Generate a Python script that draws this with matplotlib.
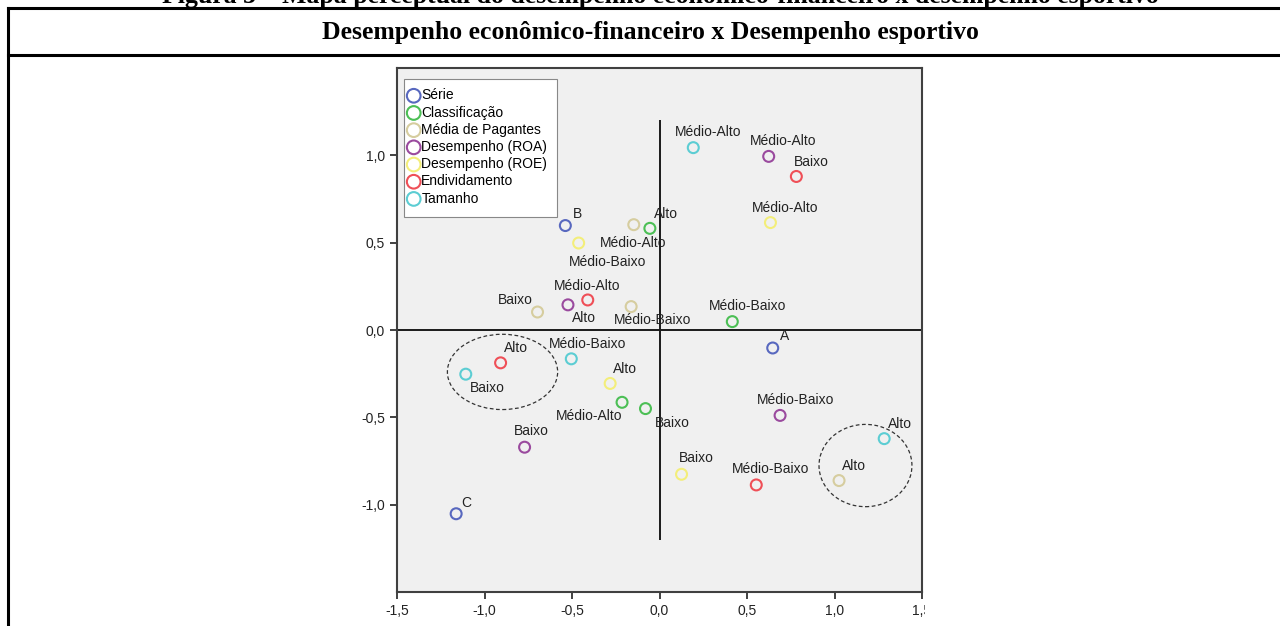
import matplotlib
matplotlib.use("Agg")
import matplotlib.pyplot as plt
from matplotlib.patches import Ellipse, Rectangle
from matplotlib.lines import Line2D
from matplotlib.transforms import Bbox

plt.rcParams['font.family'] = ['Liberation Sans', 'DejaVu Sans']

# dados (dimensao 1 x dimensao 2)
serie_lab = ["B", "A", "C"]
serie_x = [-0.538, 0.647, -1.162]
serie_y = [0.598, -0.103, -1.052]

niveis = ["Alto", "Médio-Alto", "Médio-Baixo", "Baixo"]

classif_x = [-0.055, -0.214, 0.416, -0.080]
classif_y = [0.582, -0.414, 0.048, -0.450]

pagantes_x = [1.026, -0.147, -0.162, -0.697]
pagantes_y = [-0.862, 0.603, 0.134, 0.103]

roa_x = [-0.523, 0.624, 0.689, -0.771]
roa_y = [0.144, 0.994, -0.489, -0.671]

roe_x = [-0.282, 0.634, -0.462, 0.126]
roe_y = [-0.306, 0.615, 0.498, -0.826]

endiv_x = [-0.908, -0.410, 0.553, 0.782]
endiv_y = [-0.188, 0.172, -0.887, 0.879]

tamanho_x = [1.284, 0.193, -0.504, -1.107]
tamanho_y = [-0.622, 1.044, -0.165, -0.253]

grupos = [
    ("Série", serie_x, serie_y, serie_lab, "#5868bf",
     [(12, 12), (12, 12), (10, 11)]),
    ("Classificação", classif_x, classif_y, niveis, "#4cbf55",
     [(16, 14), (-33, -14), (15, 16), (27, -14)]),
    ("Média de Pagantes", pagantes_x, pagantes_y, niveis, "#d6cd9f",
     [(15, 15), (-1, -18), (21, -13), (-22, 12)]),
    ("Desempenho (ROA)", roa_x, roa_y, niveis, "#9a4a9e",
     [(16, -13), (14, 15), (15, 15), (7, 16)]),
    ("Desempenho (ROE)", roe_x, roe_y, niveis, "#f3ee7a",
     [(15, 14), (15, 15), (29, -19), (15, 16)]),
    ("Endividamento", endiv_x, endiv_y, niveis, "#ef4f57",
     [(15, 15), (-1, 14), (14, 16), (15, 14)]),
    ("Tamanho", tamanho_x, tamanho_y, niveis, "#5ccdd3",
     [(16, 15), (15, 16), (16, 15), (22, -14)]),
]

fig = plt.figure(figsize=(12.8, 6.26), dpi=100)
fig.patch.set_facecolor("white")

# moldura da tabela
lw = 2.2
fig.add_artist(Line2D([8 / 1280, 1], [1 - 8 / 626, 1 - 8 / 626], color="black", lw=lw))
fig.add_artist(Line2D([8 / 1280, 1], [1 - 55 / 626, 1 - 55 / 626], color="black", lw=lw))
fig.add_artist(Line2D([8 / 1280, 8 / 1280], [0, 1 - 8 / 626], color="black", lw=lw))
fig.text(650 / 1280, 1 - 32 / 626, "Desempenho econômico-financeiro x Desempenho esportivo",
         ha="center", va="center", fontsize=18.5, fontweight="bold", family="Liberation Serif")
fig.text(660 / 1280, 1 - 3 / 626,
         "Figura 3 – Mapa perceptual do desempenho econômico-financeiro x desempenho esportivo",
         ha="center", va="baseline", fontsize=18.5, fontweight="bold", family="Liberation Serif")

ax = fig.add_axes([397 / 1280, 34 / 626, 525 / 1280, 524 / 626])
ax.set_facecolor("#f0f0f0")
ax.set_xlim(-1.5, 1.5)
ax.set_ylim(-1.5, 1.5)

ax.axhline(0, color="#1a1a1a", lw=1.4, zorder=1)
ax.vlines(0, -1.2, 1.2, color="#1a1a1a", lw=1.4, zorder=1)

for nome, xs, ys, labs, cor, offs in grupos:
    ax.scatter(xs, ys, s=62, facecolors="none", edgecolors=cor, linewidths=1.5,
               zorder=3, label=nome)
    for x, y, t, (dx, dy) in zip(xs, ys, labs, offs):
        ax.annotate(t, (x, y), xytext=(dx, dy), textcoords="offset pixels",
                    ha="center", va="center", fontsize=10, color="#222222", zorder=4)

# grupos destacados
ax.add_patch(Ellipse((-0.897, -0.240), 0.630, 0.431, fill=False, ls=(0, (3, 2)),
                     lw=0.9, color="#333333", zorder=2))
ax.add_patch(Ellipse((1.177, -0.776), 0.531, 0.471, fill=False, ls=(0, (3, 2)),
                     lw=0.9, color="#333333", zorder=2))

ax.set_xticks([-1.5, -1.0, -0.5, 0.0, 0.5, 1.0, 1.5])
ax.set_yticks([-1.0, -0.5, 0.0, 0.5, 1.0])
ax.set_xticklabels([f"{v:.1f}".replace(".", ",") for v in ax.get_xticks()])
ax.set_yticklabels([f"{v:.1f}".replace(".", ",") for v in ax.get_yticks()])
ax.tick_params(direction="out", length=5, width=1.3, colors="#333333",
               labelsize=10, labelcolor="#222222")
for s in ax.spines.values():
    s.set_color("#404040")
    s.set_linewidth(1.5)

# caixa da legenda desenhada a parte (folga maior em cima e embaixo)
ax.add_patch(Rectangle((0.0133, 0.7156), 0.2915, 0.2634, transform=ax.transAxes,
                       facecolor="white", edgecolor="#888888", lw=0.8, zorder=5))
leg = ax.legend(loc="upper left", bbox_to_anchor=(0.0133, 0.969), borderaxespad=0,
                fontsize=10, frameon=False, handletextpad=0.15,
                handlelength=0.8, borderpad=0.3, labelspacing=0.23, markerscale=1.25)
leg.set_zorder(6)

# a imagem original esta cortada a direita do grafico
fig.canvas.draw()
ultimo = ax.get_xticklabels()[-1]
ultimo.set_clip_box(Bbox([[0, 0], [925, 626]]))
ultimo.set_clip_on(True)

fig.savefig("out.png", dpi=100)
